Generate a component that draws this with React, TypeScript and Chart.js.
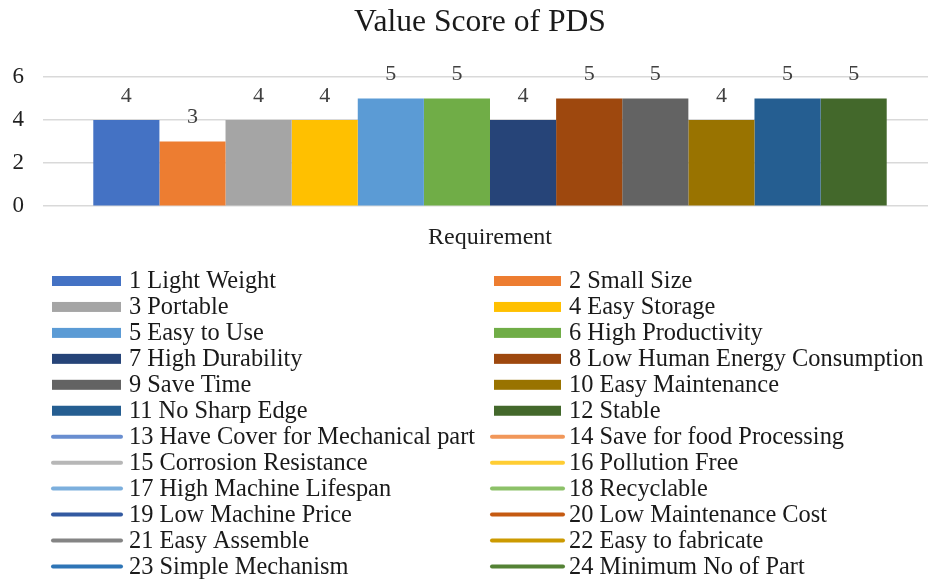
import React, { useEffect, useRef } from "react";
import { Chart, registerables } from "chart.js";

Chart.register(...registerables);

const TITLE = "Value Score of PDS";
const CATEGORIES = ["Requirement"];
const SERIES_NAMES = [
  "1 Light Weight",
  "2 Small Size",
  "3 Portable",
  "4 Easy Storage",
  "5 Easy to Use",
  "6 High Productivity",
  "7 High Durability",
  "8 Low Human Energy Consumption",
  "9 Save Time",
  "10 Easy Maintenance",
  "11 No Sharp Edge",
  "12 Stable",
  "13 Have Cover for Mechanical part",
  "14 Save for food Processing",
  "15 Corrosion Resistance",
  "16 Pollution Free",
  "17 High Machine Lifespan",
  "18 Recyclable",
  "19 Low Machine Price",
  "20 Low Maintenance Cost",
  "21 Easy Assemble",
  "22 Easy to fabricate",
  "23 Simple Mechanism",
  "24 Minimum No of Part",
];
// Scores for series 1-12 (series 13-24 have no bar value)
const BAR_VALUES = [4, 3, 4, 4, 5, 5, 4, 5, 5, 4, 5, 5];
const SERIES_COLORS = [
  "#4472C4", "#ED7D31", "#A5A5A5", "#FFC000", "#5B9BD5", "#70AD47",
  "#264478", "#9E480E", "#636363", "#997300", "#255E91", "#43682B",
  "#698ED0", "#F1975A", "#B7B7B7", "#FFCD33", "#7CAFDD", "#8CC168",
  "#335AA1", "#C55A11", "#848484", "#CC9A00", "#2E75B6", "#548235",
];
const Y_MIN = 0;
const Y_MAX = 6;
const Y_STEP = 2;

const FONT = "'Liberation Serif', 'Times New Roman', serif";

const titlePlugin = {
  id: "customTitle",
  afterDraw(chart: any) {
    const ctx = chart.ctx;
    ctx.save();
    ctx.font = `31.6px ${FONT}`;
    ctx.fillStyle = "#1a1a1a";
    ctx.textAlign = "center";
    ctx.textBaseline = "middle";
    ctx.fillText(TITLE, 480, 23);
    ctx.restore();
  },
};

const dataLabelPlugin = {
  id: "barLabels",
  afterDatasetsDraw(chart: any) {
    const ctx = chart.ctx;
    ctx.save();
    ctx.font = `22px ${FONT}`;
    ctx.fillStyle = "#404040";
    ctx.textAlign = "center";
    ctx.textBaseline = "middle";
    chart.data.datasets.forEach((ds: any, i: number) => {
      const meta = chart.getDatasetMeta(i);
      if (meta.type !== "bar" || meta.hidden) return;
      meta.data.forEach((el: any, j: number) => {
        const v = ds.data[j];
        if (v == null) return;
        ctx.fillText(String(v), el.x, el.y - 24);
      });
    });
    ctx.restore();
  },
};

const legendPlugin = {
  id: "twoColLegend",
  afterDraw(chart: any) {
    const ctx = chart.ctx;
    ctx.save();
    ctx.font = `24.4px ${FONT}`;
    ctx.textBaseline = "middle";
    ctx.textAlign = "left";
    const cols = [
      { rectX: 52, rectW: 69, lineX: 51, lineW: 72, textX: 129 },
      { rectX: 494, rectW: 67, lineX: 490, lineW: 75, textX: 569 },
    ];
    const top = 281;
    const rowH = 25.95;
    chart.data.datasets.forEach((ds: any, i: number) => {
      const c = cols[i % 2];
      const y = top + Math.floor(i / 2) * rowH;
      if (ds.type === "line") {
        ctx.strokeStyle = ds.borderColor;
        ctx.lineWidth = 4;
        ctx.lineCap = "round";
        ctx.beginPath();
        ctx.moveTo(c.lineX + 2, y);
        ctx.lineTo(c.lineX + c.lineW - 2, y);
        ctx.stroke();
      } else {
        ctx.fillStyle = ds.backgroundColor;
        ctx.fillRect(c.rectX, y - 5, c.rectW, 10);
      }
      ctx.fillStyle = "#1a1a1a";
      ctx.fillText(ds.label, c.textX, y + 1);
    });
    ctx.restore();
  },
};

export default function App() {
  const ref = useRef<HTMLCanvasElement>(null);

  useEffect(() => {
    if (!ref.current) return;
    const datasets: any[] = SERIES_NAMES.map((name, i) => {
      if (i < BAR_VALUES.length) {
        return {
          type: "bar",
          label: name,
          data: [BAR_VALUES[i]],
          backgroundColor: SERIES_COLORS[i],
          borderWidth: 0,
        };
      }
      return {
        type: "line",
        label: name,
        data: [null],
        borderColor: SERIES_COLORS[i],
        backgroundColor: SERIES_COLORS[i],
        borderWidth: 4,
        pointRadius: 0,
      };
    });

    const chart = new Chart(ref.current, {
      type: "bar",
      data: { labels: CATEGORIES, datasets },
      options: {
        responsive: false,
        animation: false,
        layout: { padding: { top: 77, bottom: 312, left: 0, right: 0 } },
        datasets: {
          bar: { categoryPercentage: 0.8875, barPercentage: 1 },
        },
        plugins: {
          legend: { display: false },
          title: { display: false },
          tooltip: { enabled: false },
        },
        scales: {
          x: {
            grid: { display: false, drawTicks: false },
            border: { display: false },
            ticks: {
              font: { family: FONT, size: 24 },
              color: "#1f1f1f",
              padding: 17,
            },
          },
          y: {
            min: Y_MIN,
            max: Y_MAX,
            ticks: {
              stepSize: Y_STEP,
              font: { family: FONT, size: 23 },
              color: "#1f1f1f",
              padding: 19,
            },
            grid: { color: "#D9D9D9", lineWidth: 1.5, drawTicks: false },
            border: { display: false },
            afterFit: (scale: any) => {
              scale.width = 43;
            },
          },
        },
      } as any,
      plugins: [titlePlugin, dataLabelPlugin, legendPlugin],
    });
    return () => chart.destroy();
  }, []);

  return (
    <div style={{ position: "fixed", left: 0, top: 0, width: 928, height: 581, overflow: "hidden", background: "#fff" }}>
      <canvas ref={ref} width={937} height={581} style={{ display: "block" }} />
    </div>
  );
}
